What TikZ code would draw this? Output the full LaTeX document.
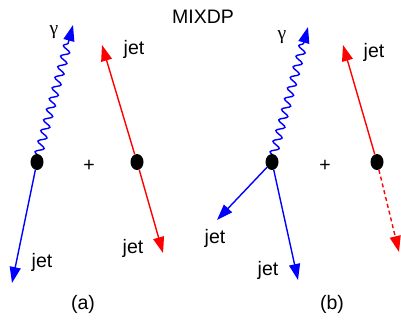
\documentclass[tikz,border=0pt]{standalone}
\usepackage{fontspec}
\setmainfont{Liberation Sans}
\newfontfamily\grk{Liberation Serif}
\usetikzlibrary{arrows.meta,decorations.pathmorphing,shapes.geometric}
\tikzset{
  vtx/.style={fill=black,ellipse,minimum width=13pt,minimum height=16pt,inner sep=0pt},
  lbl/.style={font=\fontsize{19.5pt}{22pt}\selectfont,inner sep=0pt},
  tip/.style={-{Triangle[length=16pt,width=11pt]}},
  jetb/.style={draw=blue,line width=1.4pt,tip},
  jetr/.style={draw=red,line width=1.4pt,tip},
  photon/.style={draw=blue,line width=1.4pt,tip,decorate,decoration={snake,segment length=11pt,amplitude=4pt,post length=15pt,pre length=4pt}}
}
\begin{document}
\begin{tikzpicture}[x=1pt,y=-1pt]
\useasboundingbox (0,0) rectangle (401,327);
% title
\node[lbl] (title) at (203,17) {MIXDP};
% (a)
\coordinate (ga) at (73,25);
\coordinate (ja) at (12,283);
\coordinate (jru) at (102,45);
\coordinate (jrd) at (163,253);
\draw[photon] (37,160) -- (ga);
\node[vtx] (va) at (37,162) {};
\node[vtx] (vb) at (137,162) {};
\draw[jetb] (va) -- (ja);
\draw[jetr] (vb) -- (jru);
\draw[jetr] (vb) -- (jrd);
\node[lbl] (gla) at (54,32) {\grk γ};
\node[lbl] (jla) at (42,262) {jet};
\node[lbl] (jlru) at (134,49) {jet};
\node[lbl] (jlrd) at (133,248) {jet};
\node[lbl] (pa) at (89,166) {+};
\node[lbl] (la) at (83,304) {(a)};
% (b)
\coordinate (gb) at (308,27);
\coordinate (jb1) at (217,220);
\coordinate (jb2) at (298,280);
\coordinate (jsu) at (343,45);
\coordinate (jsd) at (399,252);
\draw[photon] (272,160) -- (gb);
\node[vtx] (vc) at (272,162) {};
\node[vtx] (vd) at (377,162) {};
\draw[jetb] (vc) -- (jb1);
\draw[jetb] (vc) -- (jb2);
\draw[jetr] (vd) -- (jsu);
\draw[jetr,dash pattern=on 4pt off 3pt] (vd) -- (jsd);
\node[lbl] (glb) at (282,37) {\grk γ};
\node[lbl] (jlb1) at (215,238) {jet};
\node[lbl] (jlb2) at (268,270) {jet};
\node[lbl] (jlsu) at (374,52) {jet};
\node[lbl] (pb) at (325,166) {+};
\node[lbl] (lb) at (332,304) {(b)};
\end{tikzpicture}
\end{document}
